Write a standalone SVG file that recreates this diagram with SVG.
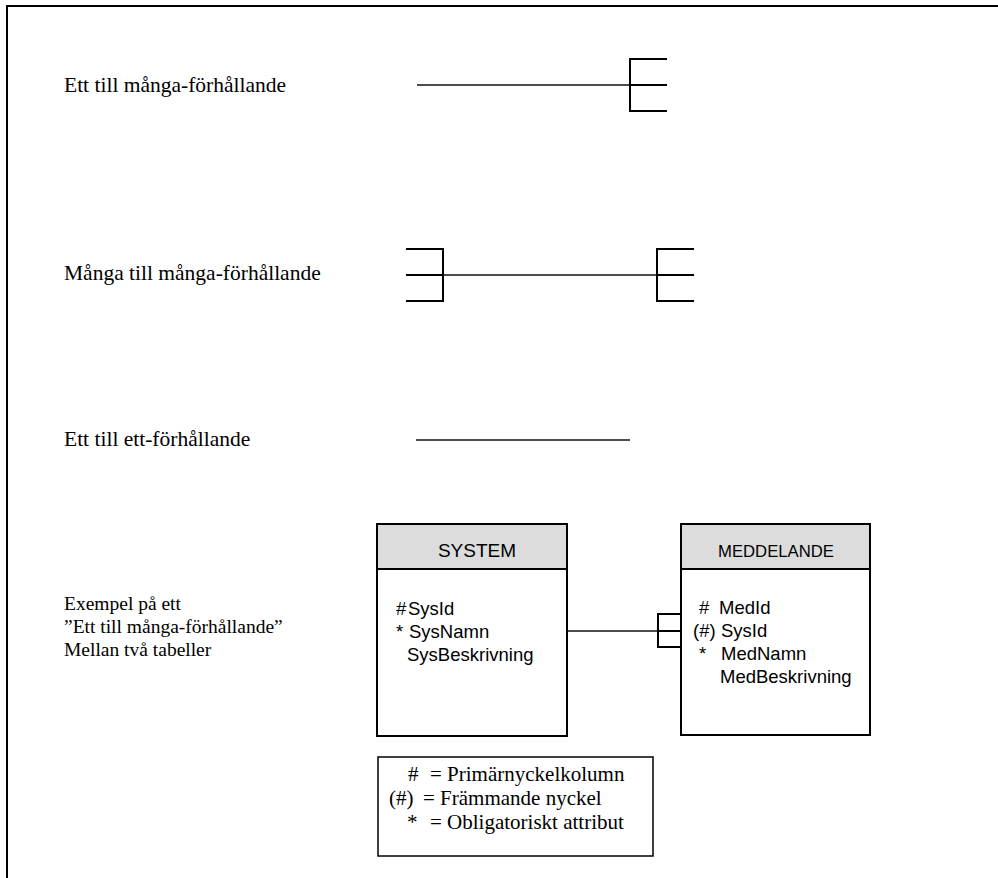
<svg xmlns="http://www.w3.org/2000/svg" width="998" height="878" viewBox="0 0 998 878">
<style>
.lbl{font-family:"Liberation Serif","Times New Roman",serif;font-size:21.5px;fill:#000}
.lbl2{font-family:"Liberation Serif","Times New Roman",serif;font-size:19.5px;fill:#000}
.leg{font-family:"Liberation Serif","Times New Roman",serif;font-size:21px;fill:#000}
.ent{font-family:"Liberation Sans",Arial,sans-serif;font-size:18.5px;fill:#000}
.hdr{font-family:"Liberation Sans",Arial,sans-serif;fill:#000;text-anchor:middle}
.box{fill:#fff;stroke:#000;stroke-width:2}
.head{fill:#dcdcdc;stroke:#000;stroke-width:2}
.ln{stroke:#111;stroke-width:1.5;fill:none}
.cf{stroke:#000;stroke-width:2;fill:none}
</style>
<rect width="998" height="878" fill="#fff"/>
<g id="frame">
<path d="M7 878 V6 H998" fill="none" stroke="#000" stroke-width="2"/>
</g>
<g id="labels">
<text class="lbl" x="64" y="92">Ett till många-förhållande</text>
<text class="lbl" x="64" y="280">Många till många-förhållande</text>
<text class="lbl" x="64" y="446">Ett till ett-förhållande</text>
<text class="lbl2" x="64" y="610">Exempel på ett</text>
<text class="lbl2" x="64" y="633">”Ett till många-förhållande”</text>
<text class="lbl2" x="64" y="656">Mellan två tabeller</text>
</g>
<g id="system">
<rect class="box" x="377" y="524" width="190" height="212"/>
<rect class="head" x="377" y="524" width="190" height="45"/>
<text class="hdr" x="477" y="557" font-size="19">SYSTEM</text>
<text class="ent" x="396" y="615">#</text>
<text class="ent" x="408" y="615">SysId</text>
<text class="ent" x="396" y="638">*</text>
<text class="ent" x="409" y="638">SysNamn</text>
<text class="ent" x="407" y="661">SysBeskrivning</text>
</g>
<g id="meddelande">
<rect class="box" x="681" y="524" width="189" height="211"/>
<rect class="head" x="681" y="524" width="189" height="45"/>
<text class="hdr" x="776" y="557" font-size="16.7">MEDDELANDE</text>
<text class="ent" x="699" y="614">#</text>
<text class="ent" x="719" y="614">MedId</text>
<text class="ent" x="693" y="637">(#)</text>
<text class="ent" x="721" y="637">SysId</text>
<text class="ent" x="699" y="660">*</text>
<text class="ent" x="721" y="660">MedNamn</text>
<text class="ent" x="720" y="683">MedBeskrivning</text>
</g>
<g id="legend">
<rect x="378" y="757" width="275" height="99" fill="#fff" stroke="#000" stroke-width="1.5"/>
<text class="leg" x="408" y="781">#</text>
<text class="leg" x="430" y="781">= Primärnyckelkolumn</text>
<text class="leg" x="389" y="805">(#)</text>
<text class="leg" x="423" y="805">= Främmande nyckel</text>
<text class="leg" x="407" y="829">*</text>
<text class="leg" x="430" y="829">= Obligatoriskt attribut</text>
</g>
<g id="connectors">
<line class="ln" x1="417" y1="85" x2="630" y2="85"/>
<path class="cf" d="M667 59 H630 V111 H667 M630 85 H667"/>
<path class="cf" d="M406 249 H443 V301 H406 M406 275 H443"/>
<line class="ln" x1="443" y1="275" x2="657" y2="275"/>
<path class="cf" d="M694 249 H657 V301 H694 M657 275 H694"/>
<line class="ln" x1="416" y1="440" x2="630" y2="440"/>
<line class="ln" x1="567" y1="631" x2="658" y2="631"/>
<path class="cf" d="M681 614 H658 V647 H681 M658 631 H681" stroke-width="1.5"/>
</g>
</svg>
